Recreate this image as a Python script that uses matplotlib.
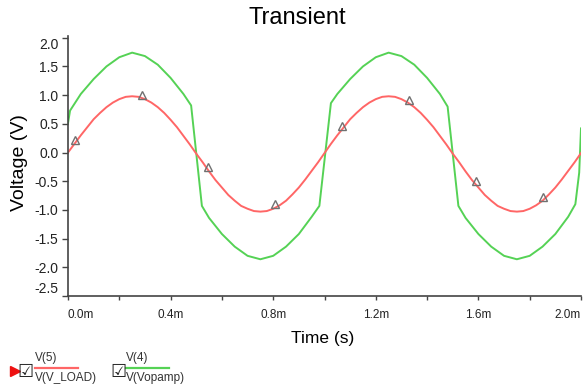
import numpy as np
import matplotlib
matplotlib.use("Agg")
import matplotlib.pyplot as plt
from matplotlib.lines import Line2D

plt.rcParams['font.family'] = ['Liberation Sans', 'DejaVu Sans']

# V(5) = V(V_LOAD), sampled every 0.025 ms
load_t = [i * 0.025 for i in range(81)]
load_v = [0.00, 0.15, 0.30, 0.44, 0.58, 0.69, 0.79, 0.87, 0.93, 0.97,
          0.98, 0.97, 0.93, 0.87, 0.79, 0.69, 0.57, 0.44, 0.29, 0.14,
          -0.02, -0.17, -0.33, -0.48, -0.61, -0.74, -0.84, -0.93, -0.98, -1.02,
          -1.03, -1.02, -0.98, -0.92, -0.84, -0.73, -0.61, -0.47, -0.32, -0.17,
          -0.01, 0.15, 0.30, 0.44, 0.58, 0.69, 0.79, 0.87, 0.93, 0.97,
          0.98, 0.97, 0.93, 0.87, 0.79, 0.69, 0.57, 0.44, 0.29, 0.14,
          -0.02, -0.17, -0.33, -0.48, -0.61, -0.74, -0.84, -0.93, -0.98, -1.02,
          -1.03, -1.02, -0.98, -0.92, -0.84, -0.73, -0.61, -0.47, -0.32, -0.17,
          -0.01]

# V(4) = V(Vopamp)
opamp_t = [0.000, 0.008, 0.05, 0.10, 0.15, 0.20, 0.25, 0.30, 0.35, 0.40, 0.45, 0.480,
           0.522, 0.55, 0.60, 0.65, 0.70, 0.75, 0.80, 0.85, 0.90, 0.95, 0.980,
           1.025, 1.05, 1.10, 1.15, 1.20, 1.25, 1.30, 1.35, 1.40, 1.45, 1.480,
           1.522, 1.55, 1.60, 1.65, 1.70, 1.75, 1.80, 1.85, 1.90, 1.95, 1.978,
           1.993, 2.000]
opamp_v = [0.51, 0.73, 1.02, 1.28, 1.50, 1.66, 1.74, 1.68, 1.53, 1.30, 1.02, 0.82,
           -0.93, -1.14, -1.42, -1.64, -1.80, -1.86, -1.80, -1.64, -1.42, -1.12, -0.93,
           0.86, 1.02, 1.28, 1.50, 1.66, 1.74, 1.68, 1.53, 1.30, 1.02, 0.80,
           -0.93, -1.14, -1.42, -1.64, -1.80, -1.86, -1.80, -1.64, -1.42, -1.12, -0.90,
           -0.35, 0.42]

# triangle markers on V(5)
marker_t = [0.027, 0.288, 0.546, 0.807, 1.068, 1.33, 1.59, 1.85]

yticks = [2.0, 1.5, 1.0, 0.5, 0.0, -0.5, -1.0, -1.5, -2.0, -2.5]
xticks = [0.0, 0.4, 0.8, 1.2, 1.6, 2.0]
xtick_labels = ['0.0m', '0.4m', '0.8m', '1.2m', '1.6m', '2.0m']

red = '#ff6666'
green = '#55d255'

fig = plt.figure(figsize=(5.88, 3.90), dpi=100)
ax = fig.add_axes([68 / 588, 1 - 296 / 390, (581 - 68) / 588, (296 - 36) / 390])

ax.plot(opamp_t, opamp_v, color=green, lw=1.4)
ax.plot(load_t, load_v, color=red, lw=1.4)
ax.plot(marker_t, np.interp(marker_t, load_t, load_v) + 0.06, linestyle='none',
        marker='^', markersize=5.5, markerfacecolor='none', markeredgecolor='#707070',
        markeredgewidth=1.0)

ax.set_xlim(0, 2.0)
ax.set_ylim(-2.5, 2.03)

ax.set_yticks(yticks)
ax.set_yticklabels([f'{v:.1f}' for v in yticks], fontsize=10, color='#222222')
ax.set_xticks(xticks)
ax.set_xticklabels(xtick_labels, fontsize=8.5, color='#222222')
ax.set_xticks([0.2, 0.6, 1.0, 1.4, 1.8], minor=True)

ylabs = ax.get_yticklabels()
ylabs[0].set_va('top')
ylabs[-1].set_va('bottom')
xlabs = ax.get_xticklabels()
xlabs[0].set_ha('left')
xlabs[-1].set_ha('right')

ax.tick_params(axis='y', direction='out', length=4, width=1, color='#444444', pad=3)
ax.tick_params(axis='x', which='both', direction='out', length=3, width=1,
               color='#444444', pad=6)

for s in ['top', 'right']:
    ax.spines[s].set_visible(False)
for s in ['left', 'bottom']:
    ax.spines[s].set_color('#444444')
    ax.spines[s].set_linewidth(1.2)

fig.text(297 / 588, 1 - 18 / 390, 'Transient', fontsize=17, ha='center', va='center')
fig.text(323 / 588, 1 - 339 / 390, 'Time (s)', fontsize=12.5, ha='center', va='center')
fig.text(20 / 588, 1 - 163 / 390, 'Voltage (V)', fontsize=14, rotation=90,
         ha='center', va='center')

# legend drawn by hand
def px(x, y):
    return x / 588, 1 - y / 390

fig.add_artist(Line2D([px(15, 0)[0]], [px(0, 371)[1]], marker='>', markersize=7,
                      color='#ee1111', linestyle='none'))
for cx, name, label, col, x0, x1 in [(25, 'V(5)', 'V(V_LOAD)', red, 35, 78),
                                     (118, 'V(4)', 'V(Vopamp)', green, 126, 169)]:
    fig.text(*px(cx, 372), '\u2611', fontsize=13, ha='center', va='center',
             family='DejaVu Sans', color='#222222')
    fig.text(*px(x0, 358), name, fontsize=8.5, ha='left', va='center', color='#333333')
    fig.text(*px(x0, 378), label, fontsize=8.5, ha='left', va='center', color='#333333')
    fig.add_artist(Line2D([px(x0, 0)[0], px(x1, 0)[0]], [px(0, 368)[1]] * 2,
                          color=col, lw=1.6))

fig.savefig('out.png', dpi=100)
